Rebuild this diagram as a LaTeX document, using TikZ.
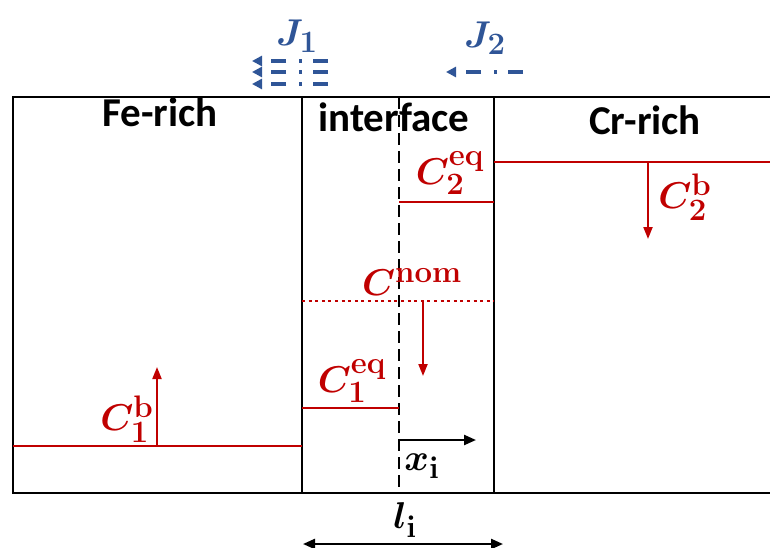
\documentclass[tikz,border=0pt]{standalone}
\usepackage{fontspec}
\newfontfamily\labfont{Carlito}
\usetikzlibrary{arrows.meta}
\definecolor{alloyred}{RGB}{192,0,0}
\definecolor{fluxblue}{RGB}{47,85,151}
\newcommand{\bigmath}[1]{\scalebox{1.5}{\Huge\boldmath$#1$}}
\tikzset{
  wall/.style={line width=2.3pt},
  level/.style={alloyred,line width=2pt},
  drift/.style={alloyred,line width=2pt,-{Triangle[length=12pt,width=9pt]}},
  region/.style={font=\labfont\bfseries\fontsize{41}{46}\selectfont,inner sep=0pt,anchor=base},
  mathlab/.style={inner sep=0pt},
  conc/.style={mathlab,alloyred},
  flux/.style={fluxblue,line width=3.5pt,dash pattern=on 15pt off 11pt on 3pt off 13pt,
    -{Triangle[length=10pt,width=10pt]}},
  fluxlab/.style={mathlab,fluxblue},
  gauge/.style={line width=2.3pt,-{Triangle[length=12pt,width=10pt]}},
}
\begin{document}
\begin{tikzpicture}[x=1pt,y=-1pt]
  \useasboundingbox (0,0) rectangle (770,548);
  % frame and walls
  \coordinate (tl) at (13,97);   \coordinate (tr) at (770,97);
  \coordinate (bl) at (13,493);  \coordinate (br) at (770,493);
  \coordinate (w1t) at (302,97); \coordinate (w1b) at (302,493);
  \coordinate (w2t) at (494,97); \coordinate (w2b) at (494,493);
  \coordinate (mt) at (399,97);  \coordinate (mb) at (399,493);
  \draw[wall] (tr) -- (tl) -- (bl) -- (br);
  \draw[wall] (w1t) -- (w1b);
  \draw[wall] (w2t) -- (w2b);
  \draw[wall,dash pattern=on 12pt off 6pt] (mt) -- (mb);

  \node[region] (fe) at (160,127) {Fe-rich};
  \node[region] (intf) at (394,132) {interface};
  \node[region] (cr) at (645,135) {Cr-rich};

  % concentration levels
  \coordinate (b1l) at (13,446);  \coordinate (b1r) at (302,446);
  \coordinate (e1l) at (302,408); \coordinate (e1r) at (399,408);
  \coordinate (hl) at (302,301);  \coordinate (hr) at (494,301);
  \coordinate (e2l) at (399,202); \coordinate (e2r) at (494,202);
  \coordinate (b2l) at (494,162); \coordinate (b2r) at (770,162);
  \draw[level] (b1l) -- (b1r);
  \draw[level] (e1l) -- (e1r);
  \draw[level,line width=2.8pt,dash pattern=on 3pt off 3.6pt] (hl) -- (hr);
  \draw[level] (e2l) -- (e2r);
  \draw[level] (b2l) -- (b2r);

  \coordinate (b1s) at (157,446); \coordinate (b1t) at (157,367);
  \coordinate (hs) at (423,301);  \coordinate (ht) at (423,376);
  \coordinate (b2s) at (648,162); \coordinate (b2t) at (648,239);
  \draw[drift] (b1s) -- (b1t);
  \draw[drift] (hs) -- (ht);
  \draw[drift] (b2s) -- (b2t);

  \node[conc] (cb1) at (127,419) {\bigmath{C^{\mathbf{b}}_{\mathbf{1}}}};
  \node[conc] (ceq1) at (352,381) {\bigmath{C^{\mathbf{eq}}_{\mathbf{1}}}};
  \node[conc] (chom) at (412,282) {\bigmath{C^{\mathbf{nom}}}};
  \node[conc] (ceq2) at (450,173) {\bigmath{C^{\mathbf{eq}}_{\mathbf{2}}}};
  \node[conc] (cb2) at (685,197) {\bigmath{C^{\mathbf{b}}_{\mathbf{2}}}};

  % fluxes
  \node[fluxlab] (j1) at (297,36) {\bigmath{J_{\mathbf{1}}}};
  \node[fluxlab] (j2) at (485,38) {\bigmath{J_{\mathbf{2}}}};
  \foreach \row in {61,72,84} {
    \coordinate (j1s\row) at (328,\row);
    \coordinate (j1t\row) at (252,\row);
    \draw[flux] (j1s\row) -- (j1t\row);
  }
  \coordinate (j2s) at (523,72); \coordinate (j2t) at (446,72);
  \draw[flux] (j2s) -- (j2t);

  % interface coordinates
  \coordinate (xs) at (399,440); \coordinate (xt) at (476,440);
  \draw[gauge] (xs) -- (xt);
  \node[mathlab] (xi) at (422,466) {\bigmath{x_{\mathbf{i}}}};
  \coordinate (ll) at (303,544); \coordinate (lr) at (503,544);
  \draw[gauge,{Triangle[length=12pt,width=10pt]}-{Triangle[length=12pt,width=10pt]}] (ll) -- (lr);
  \node[mathlab] (li) at (405,520) {\bigmath{l_{\mathbf{i}}}};
\end{tikzpicture}
\end{document}
